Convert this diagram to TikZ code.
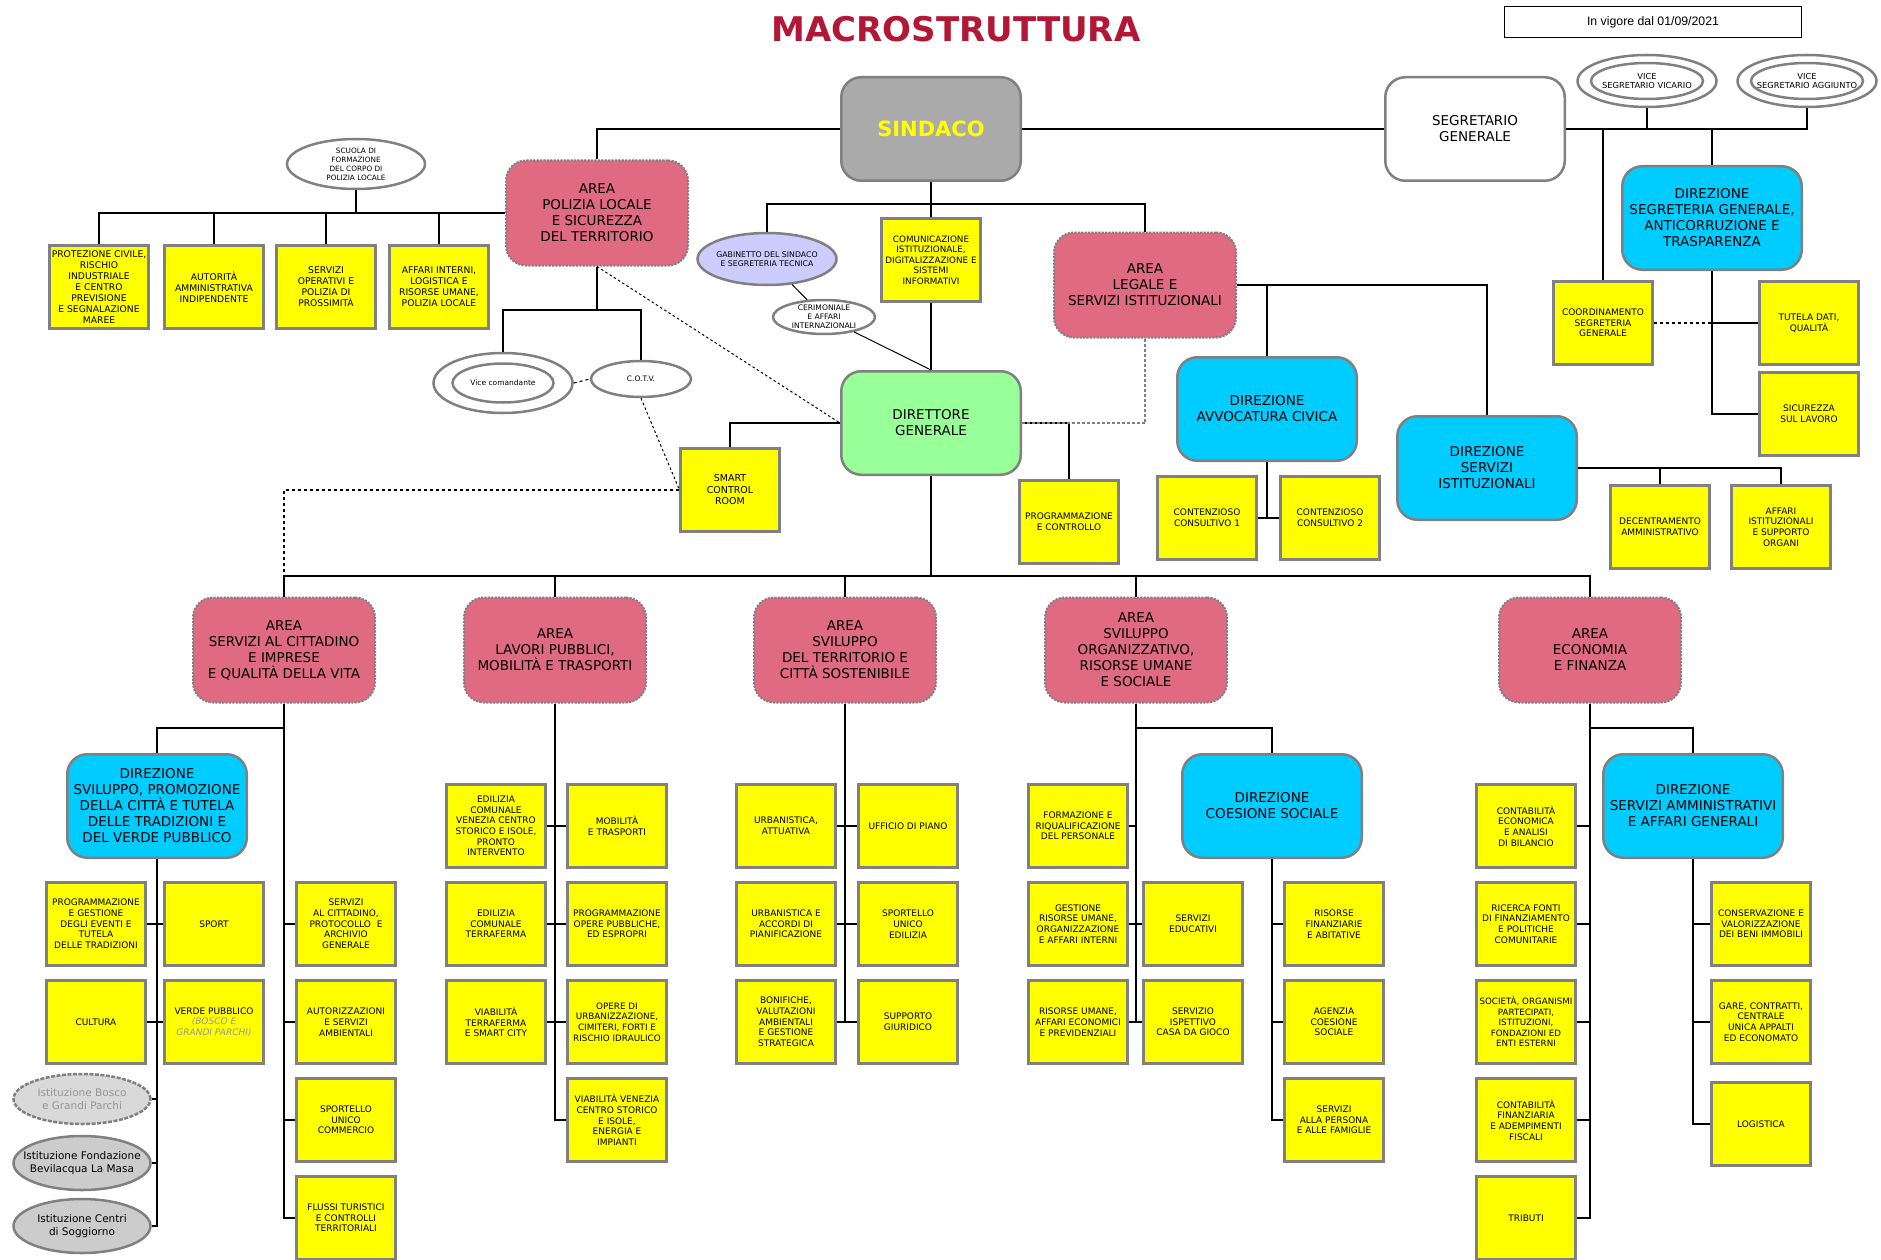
\documentclass[tikz,border=0pt]{standalone}
\usepackage{fontspec}
\setmainfont{DejaVu Sans}
\newfontfamily\arialfont{Liberation Sans}
\usetikzlibrary{shapes.geometric}
\definecolor{pinkA}{RGB}{224,106,130}
\definecolor{cyanD}{RGB}{0,204,255}
\definecolor{greenD}{RGB}{153,255,153}
\definecolor{grayS}{RGB}{170,170,170}
\definecolor{lav}{RGB}{204,204,255}
\definecolor{bord}{RGB}{128,128,128}
\definecolor{titred}{RGB}{178,24,54}
\definecolor{lgray}{RGB}{217,217,217}
\definecolor{mgray}{RGB}{204,204,204}
\definecolor{txtgray}{RGB}{150,150,150}
\definecolor{yel}{RGB}{255,255,0}
\begin{document}
\begin{tikzpicture}[x=1pt,y=-1pt,
  ybox/.style={rectangle, fill=yel, draw=bord, line width=2.6pt, minimum width=98.5pt, minimum height=83.5pt, inner sep=0pt, align=center, font={\fontsize{9}{10.7}\selectfont}},
  pbox/.style={ybox, font={\fontsize{9.2}{11}\selectfont}},
  rbox/.style={rectangle, rounded corners=20pt, draw=bord, line width=2.5pt, minimum width=179.5pt, minimum height=103.5pt, inner sep=0pt, align=center, font={\fontsize{13.5}{16}\selectfont}},
  area/.style={rbox, fill=pinkA, line width=2pt, dash pattern=on 2.2pt off 1.2pt, minimum width=182pt, minimum height=105pt},
  dirz/.style={rbox, fill=cyanD},
  ell/.style={ellipse, draw=bord, line width=2.5pt, inner sep=0pt},
  conn/.style={draw=black, line width=1.3pt},
  bconn/.style={draw=black, line width=1.7pt},
  dconn/.style={draw=black, line width=1.1pt, dash pattern=on 3pt off 3pt},
  dotconn/.style={draw=black, line width=1pt, dash pattern=on 2.5pt off 2.5pt},
]
\useasboundingbox (0,0) rectangle (1881,1260);
\fill[white] (0,0) rectangle (1881,1260);

% ---------- title and date ----------
\node[font={\bfseries\fontsize{34}{40}\selectfont}, text=titred] (title) at (956,29) {MACROSTRUTTURA};
\node[draw=black, line width=1pt, minimum width=297pt, minimum height=31pt, inner sep=0pt, font={\arialfont\fontsize{12.3}{14}\selectfont}] (vig) at (1653,22) {In vigore dal 01/09/2021};

% ---------- top level ----------
\node[rbox, fill=grayS, font={\bfseries\fontsize{21}{24}\selectfont}, text=yel] (sind) at (931,129) {SINDACO};
\node[rbox, fill=white] (seg) at (1475,129) {SEGRETARIO\\GENERALE};

\node[ell, minimum width=139pt, minimum height=52pt] (vvO) at (1647,81) {};
\node[ell, minimum width=112pt, minimum height=36pt, label={[align=center, font={\fontsize{8.3}{9.6}\selectfont}]center:VICE\\SEGRETARIO VICARIO}] (vvI) at (1647,81) {};
\node[ell, minimum width=139pt, minimum height=52pt] (vaO) at (1807,81) {};
\node[ell, minimum width=112pt, minimum height=36pt, label={[align=center, font={\fontsize{8.3}{9.6}\selectfont}]center:VICE\\SEGRETARIO AGGIUNTO}] (vaI) at (1807,81) {};

\node[dirz] (ds) at (1712,218) {DIREZIONE\\SEGRETERIA GENERALE,\\ANTICORRUZIONE E\\TRASPARENZA};
\node[ybox] (coo) at (1603,323) {COORDINAMENTO\\SEGRETERIA\\GENERALE};
\node[ybox] (tut) at (1809,323) {TUTELA DATI,\\QUALITÀ};
\node[ybox] (sic) at (1809,414) {SICUREZZA\\SUL LAVORO};

% ---------- polizia locale ----------
\node[area] (pol) at (597,213) {AREA\\POLIZIA LOCALE\\E SICUREZZA\\DEL TERRITORIO};
\node[ell, minimum width=138pt, minimum height=50pt, label={[align=center, font={\fontsize{7.3}{9}\selectfont}]center:SCUOLA DI\\FORMAZIONE\\DEL CORPO DI\\POLIZIA LOCALE}] (scu) at (356,164) {};
\node[pbox] (p1) at (99,287) {PROTEZIONE CIVILE,\\RISCHIO\\INDUSTRIALE\\E CENTRO\\PREVISIONE\\E SEGNALAZIONE\\MAREE};
\node[pbox] (p2) at (214,287) {AUTORITÀ\\AMMINISTRATIVA\\INDIPENDENTE};
\node[pbox] (p3) at (326,287) {SERVIZI\\OPERATIVI E\\POLIZIA DI\\PROSSIMITÀ};
\node[pbox] (p4) at (439,287) {AFFARI INTERNI,\\LOGISTICA E\\RISORSE UMANE,\\POLIZIA LOCALE};

\node[ell, minimum width=139pt, minimum height=60pt] (vcO) at (503,383) {};
\node[ell, minimum width=101pt, minimum height=39pt, label={[font={\fontsize{7.5}{9}\selectfont}]center:Vice comandante}] (vcI) at (503,383) {};
\node[ell, minimum width=100pt, minimum height=36pt, label={[font={\fontsize{7.5}{9}\selectfont}]center:C.O.T.V.}] (cotv) at (641,379) {};

% ---------- sindaco staff ----------
\node[ell, fill=lav, minimum width=139pt, minimum height=52pt, label={[align=center, font={\fontsize{7.8}{9.2}\selectfont}]center:GABINETTO DEL SINDACO\\E SEGRETERIA TECNICA}] (gab) at (767,259) {};
\node[ell, minimum width=102pt, minimum height=34pt, label={[align=center, font={\fontsize{7.6}{9}\selectfont}]center:CERIMONIALE\\E AFFARI\\INTERNAZIONALI}] (cer) at (824,317) {};
\node[ybox, font={\fontsize{8.8}{10.5}\selectfont}] (com) at (931,260) {COMUNICAZIONE\\ISTITUZIONALE,\\DIGITALIZZAZIONE E\\SISTEMI\\INFORMATIVI};
\node[area] (leg) at (1145,285) {AREA\\LEGALE E\\SERVIZI ISTITUZIONALI};

\node[rbox, fill=greenD] (dir) at (931,423) {DIRETTORE\\GENERALE};
\node[ybox, font={\fontsize{9.5}{11.5}\selectfont}] (smart) at (730,490) {SMART\\CONTROL\\ROOM};
\node[ybox] (pc) at (1069,522) {PROGRAMMAZIONE\\E CONTROLLO};

\node[dirz] (av) at (1267,409) {DIREZIONE\\AVVOCATURA CIVICA};
\node[ybox] (ct1) at (1207,518) {CONTENZIOSO\\CONSULTIVO 1};
\node[ybox] (ct2) at (1330,518) {CONTENZIOSO\\CONSULTIVO 2};

\node[dirz] (si) at (1487,468) {DIREZIONE\\SERVIZI\\ISTITUZIONALI};
\node[ybox] (dc) at (1660,527) {DECENTRAMENTO\\AMMINISTRATIVO};
\node[ybox] (ai) at (1781,527) {AFFARI\\ISTITUZIONALI\\E SUPPORTO\\ORGANI};

% ---------- areas row ----------
\node[area] (A1) at (284,650) {AREA\\SERVIZI AL CITTADINO\\E IMPRESE\\E QUALITÀ DELLA VITA};
\node[area] (A2) at (555,650) {AREA\\LAVORI PUBBLICI,\\MOBILITÀ E TRASPORTI};
\node[area] (A3) at (845,650) {AREA\\SVILUPPO\\DEL TERRITORIO E\\CITTÀ SOSTENIBILE};
\node[area] (A4) at (1136,650) {AREA\\SVILUPPO\\ORGANIZZATIVO,\\RISORSE UMANE\\E SOCIALE};
\node[area] (A5) at (1590,650) {AREA\\ECONOMIA\\E FINANZA};

% ---------- column 1 ----------
\node[dirz] (D1) at (157,806) {DIREZIONE\\SVILUPPO, PROMOZIONE\\DELLA CITTÀ E TUTELA\\DELLE TRADIZIONI E\\DEL VERDE PUBBLICO};
\node[ybox] (y11) at (96,924) {PROGRAMMAZIONE\\E GESTIONE\\DEGLI EVENTI E\\TUTELA\\DELLE TRADIZIONI};
\node[ybox] (y12) at (214,924) {SPORT};
\node[ybox] (y21) at (96,1022) {CULTURA};
\node[ybox] (y22) at (214,1022) {VERDE PUBBLICO\\{\color{txtgray}\itshape (BOSCO E}\\{\color{txtgray}\itshape GRANDI PARCHI)}};
\node[ell, fill=lgray, dash pattern=on 4pt off 1.5pt, minimum width=137pt, minimum height=50pt, label={[align=center, text=txtgray, font={\fontsize{10.5}{12.5}\selectfont}]center:Istituzione Bosco\\e Grandi Parchi}] (is1) at (82,1099) {};
\node[ell, fill=mgray, minimum width=137pt, minimum height=54pt, label={[align=center, font={\fontsize{10.5}{12.5}\selectfont}]center:Istituzione Fondazione\\Bevilacqua La Masa}] (is2) at (82,1163) {};
\node[ell, fill=mgray, minimum width=137pt, minimum height=54pt, label={[align=center, font={\fontsize{10.5}{12.5}\selectfont}]center:Istituzione Centri\\di Soggiorno}] (is3) at (82,1226) {};
\node[ybox] (c1r1) at (346,924) {SERVIZI\\AL CITTADINO,\\PROTOCOLLO \ E\\ARCHIVIO\\GENERALE};
\node[ybox] (c1r2) at (346,1022) {AUTORIZZAZIONI\\E SERVIZI\\AMBIENTALI};
\node[ybox] (c1r3) at (346,1120) {SPORTELLO\\UNICO\\COMMERCIO};
\node[ybox] (c1r4) at (346,1218) {FLUSSI TURISTICI\\E CONTROLLI\\TERRITORIALI};

% ---------- column 2 ----------
\node[ybox] (c2l1) at (496,826) {EDILIZIA\\COMUNALE\\VENEZIA CENTRO\\STORICO E ISOLE,\\PRONTO\\INTERVENTO};
\node[ybox] (c2r1) at (617,826) {MOBILITÀ\\E TRASPORTI};
\node[ybox] (c2l2) at (496,924) {EDILIZIA\\COMUNALE\\TERRAFERMA};
\node[ybox] (c2r2) at (617,924) {PROGRAMMAZIONE\\OPERE PUBBLICHE,\\ED ESPROPRI};
\node[ybox] (c2l3) at (496,1022) {VIABILITÀ\\TERRAFERMA\\E SMART CITY};
\node[ybox, font={\fontsize{8.8}{10.6}\selectfont}] (c2r3) at (617,1022) {OPERE DI\\URBANIZZAZIONE,\\CIMITERI, FORTI E\\RISCHIO IDRAULICO};
\node[ybox] (c2r4) at (617,1120) {VIABILITÀ VENEZIA\\CENTRO STORICO\\E ISOLE,\\ENERGIA E\\IMPIANTI};

% ---------- column 3 ----------
\node[ybox] (c3l1) at (786,826) {URBANISTICA,\\ATTUATIVA};
\node[ybox] (c3r1) at (908,826) {UFFICIO DI PIANO};
\node[ybox] (c3l2) at (786,924) {URBANISTICA E\\ACCORDI DI\\PIANIFICAZIONE};
\node[ybox] (c3r2) at (908,924) {SPORTELLO\\UNICO\\EDILIZIA};
\node[ybox] (c3l3) at (786,1022) {BONIFICHE,\\VALUTAZIONI\\AMBIENTALI\\E GESTIONE\\STRATEGICA};
\node[ybox] (c3r3) at (908,1022) {SUPPORTO\\GIURIDICO};

% ---------- column 4 ----------
\node[dirz] (D4) at (1272,806) {DIREZIONE\\COESIONE SOCIALE};
\node[ybox] (c4l1) at (1078,826) {FORMAZIONE E\\RIQUALIFICAZIONE\\DEL PERSONALE};
\node[ybox] (c4l2) at (1078,924) {GESTIONE\\RISORSE UMANE,\\ORGANIZZAZIONE\\E AFFARI INTERNI};
\node[ybox] (c4l3) at (1078,1022) {RISORSE UMANE,\\AFFARI ECONOMICI\\E PREVIDENZIALI};
\node[ybox] (c4r2) at (1193,924) {SERVIZI\\EDUCATIVI};
\node[ybox] (c4r3) at (1193,1022) {SERVIZIO\\ISPETTIVO\\CASA DA GIOCO};
\node[ybox] (c4c2) at (1334,924) {RISORSE\\FINANZIARIE\\E ABITATIVE};
\node[ybox] (c4c3) at (1334,1022) {AGENZIA\\COESIONE\\SOCIALE};
\node[ybox] (c4c4) at (1334,1120) {SERVIZI\\ALLA PERSONA\\E ALLE FAMIGLIE};

% ---------- column 5 ----------
\node[dirz] (D5) at (1693,806) {DIREZIONE\\SERVIZI AMMINISTRATIVI\\E AFFARI GENERALI};
\node[ybox] (c5l1) at (1526,826) {CONTABILITÀ\\ECONOMICA\\E ANALISI\\DI BILANCIO};
\node[ybox] (c5l2) at (1526,924) {RICERCA FONTI\\DI FINANZIAMENTO\\E POLITICHE\\COMUNITARIE};
\node[ybox, font={\fontsize{8.7}{10.5}\selectfont}] (c5l3) at (1526,1022) {SOCIETÀ, ORGANISMI\\PARTECIPATI,\\ISTITUZIONI,\\FONDAZIONI ED\\ENTI ESTERNI};
\node[ybox] (c5l4) at (1526,1120) {CONTABILITÀ\\FINANZIARIA\\E ADEMPIMENTI\\FISCALI};
\node[ybox] (c5l5) at (1526,1218) {TRIBUTI};
\node[ybox] (c5r2) at (1761,924) {CONSERVAZIONE E\\VALORIZZAZIONE\\DEI BENI IMMOBILI};
\node[ybox] (c5r3) at (1761,1022) {GARE, CONTRATTI,\\CENTRALE\\UNICA APPALTI\\ED ECONOMATO};
\node[ybox] (c5r4) at (1761,1124) {LOGISTICA};

% ---------- helper coordinates ----------
\coordinate (sb) at (931,204);
\coordinate (pb) at (597,310);
\coordinate (mb) at (931,576);
\coordinate (b1) at (284,728);
\coordinate (b4) at (1136,728);
\coordinate (b5) at (1590,728);

% ---------- connectors: top ----------
\draw[conn] (sind.west) -| (pol.north);
\draw[conn] (sind.east) -- (seg.west);
\draw[conn] (sind.south) -- (com.north);
\draw[conn] (gab.north) |- (sb) -| (leg.north);
\draw[conn] (com.south) -- (dir.north);
\draw[draw=black, line width=1pt] (gab) -- (cer);
\draw[draw=black, line width=1pt] (cer) -- (dir.north);

\draw[conn] (seg.east) -- (vaO.south |- seg.east) -- (vaO.south);
\draw[conn] (vvO.south) -- (vvO.south |- seg.east);
\draw[conn] (coo.north) -- (coo.north |- seg.east);
\draw[conn] (ds.north) -- (ds.north |- seg.east);
\draw[conn] (ds.south) |- (sic.west);
\draw[conn] (tut.west) -- (tut.west -| ds.south);
\draw[dconn] (coo.east) -- (coo.east -| ds.south);

\draw[conn] (pol.west) -| (p1.north);
\foreach \n in {p2,p3,p4} \draw[conn] (\n.north) -- (\n.north |- pol.west);
\draw[conn] (scu.south) -- (scu.south |- pol.west);
\draw[conn] (pol.south) -- (pb);
\draw[conn] (vcO.north) |- (pb);
\draw[conn] (cotv.north) |- (pb);
\draw[dconn] (vcO.east) -- (cotv.west);
\draw[dotconn] (cotv.south) -- (smart.west);
\draw[dconn] (smart.west) -| (A1.north);
\draw[dotconn] (pol.south) -- (dir.west);

\draw[conn] (dir.west) -| (smart.north);
\draw[conn] (dir.east) -| (pc.north);
\draw[draw=bord, line width=1.6pt, dash pattern=on 3pt off 2pt] (leg.south) |- (dir.east);
\draw[conn] (leg.east) -| (si.north);
\draw[conn] (av.north) -- (av.north |- leg.east);
\draw[conn] (av.south) -- (av.south |- ct1.east);
\draw[conn] (ct1.east) -- (ct2.west);
\draw[conn] (si.east) -| (ai.north);
\draw[conn] (dc.north) -- (dc.north |- si.east);

% ---------- main bus ----------
\draw[bconn] (dir.south) -- (mb);
\draw[bconn] (A1.north) |- (mb);
\draw[bconn] (A5.north) |- (mb);
\foreach \n in {A2,A3,A4} \draw[bconn] (\n.north) -- (\n.north |- mb);

% ---------- column 1 ----------
\draw[bconn] (A1.south) |- (c1r4.west);
\foreach \n in {c1r1,c1r2,c1r3} \draw[conn] (\n.west) -- (\n.west -| A1.south);
\draw[conn] (b1) -| (D1.north);
\draw[conn] (D1.south) |- (is3.east);
\foreach \n in {is1,is2} \draw[conn] (\n.east) -- (\n.east -| D1.south);
\draw[conn] (y11.east) -- (y12.west);
\draw[conn] (y21.east) -- (y22.west);

% ---------- column 2 ----------
\draw[bconn] (A2.south) |- (c2r4.west);
\draw[conn] (c2l1.east) -- (c2r1.west);
\draw[conn] (c2l2.east) -- (c2r2.west);
\draw[conn] (c2l3.east) -- (c2r3.west);

% ---------- column 3 ----------
\draw[conn] (A3.south) -- (A3.south |- c3l3.east);
\draw[conn] (c3l1.east) -- (c3r1.west);
\draw[conn] (c3l2.east) -- (c3r2.west);
\draw[conn] (c3l3.east) -- (c3r3.west);

% ---------- column 4 ----------
\draw[bconn] (A4.south) -- (A4.south |- c4l3.east);
\draw[conn] (c4l1.east) -- (c4l1.east -| A4.south);
\draw[conn] (c4l2.east) -- (c4r2.west);
\draw[conn] (c4l3.east) -- (c4r3.west);
\draw[conn] (b4) -| (D4.north);
\draw[conn] (D4.south) |- (c4c4.west);
\foreach \n in {c4c2,c4c3} \draw[conn] (\n.west) -- (\n.west -| D4.south);

% ---------- column 5 ----------
\draw[bconn] (A5.south) |- (c5l5.east);
\foreach \n in {c5l1,c5l2,c5l3,c5l4} \draw[conn] (\n.east) -- (\n.east -| A5.south);
\draw[conn] (b5) -| (D5.north);
\draw[conn] (D5.south) |- (c5r4.west);
\foreach \n in {c5r2,c5r3} \draw[conn] (\n.west) -- (\n.west -| D5.south);
\end{tikzpicture}
\end{document}
